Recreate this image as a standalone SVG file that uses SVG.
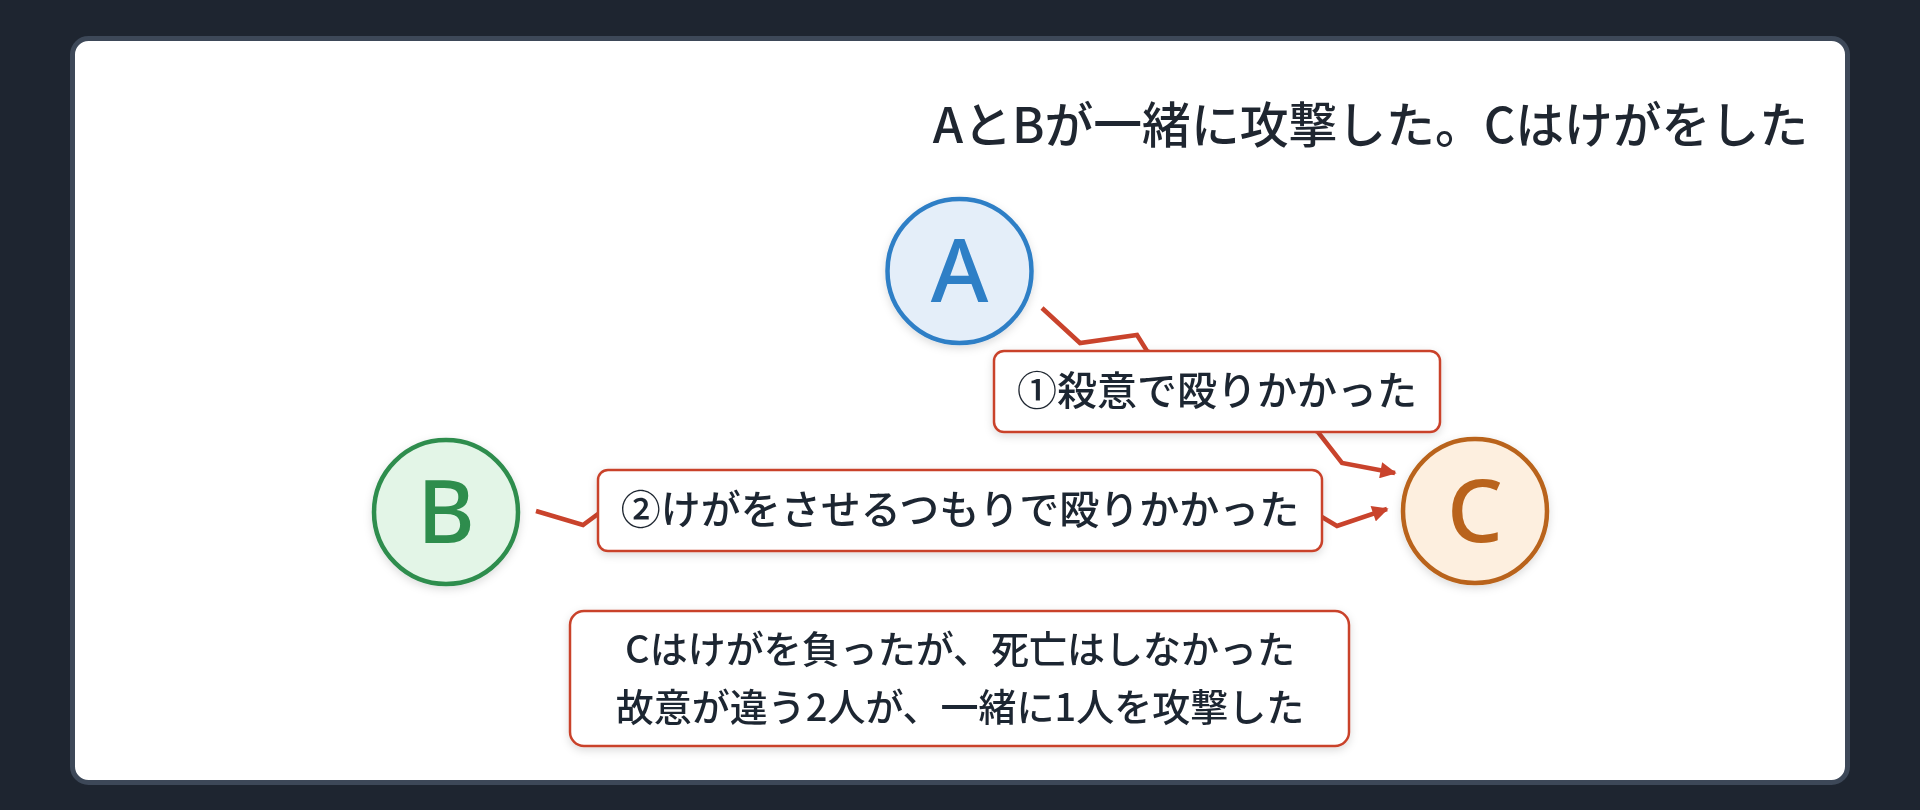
<svg xmlns="http://www.w3.org/2000/svg" width="1920" height="810" viewBox="0 0 1920 810">
<defs>
<style>
.txt{font-family:"Noto Sans CJK JP","Noto Sans",sans-serif;fill:#1f2630}
.title{font-size:48.8px;font-weight:500}
.lbl{font-size:40px;font-weight:500}
.note{font-size:38px;font-weight:500}
.letter{font-family:"Noto Sans","Noto Sans CJK JP",sans-serif;font-size:88px;font-weight:500;text-anchor:middle}
.box{fill:#ffffff;stroke:#c9432c;stroke-width:2.5}
.conn{fill:none;stroke:#c9432c;stroke-width:4.5;stroke-linejoin:miter;marker-end:url(#arrow)}
</style>
<marker id="arrow" viewBox="0 0 10 10" refX="9" refY="5" markerWidth="4" markerHeight="3.6" orient="auto" markerUnits="strokeWidth">
<path d="M0,0 L10,5 L0,10 z" fill="#c9432c"/>
</marker>
<filter id="sh" x="-20%" y="-20%" width="140%" height="150%">
<feDropShadow dx="0" dy="3" stdDeviation="4" flood-color="#000" flood-opacity="0.14"/>
</filter>
</defs>
<rect x="0" y="0" width="1920" height="810" fill="#1e2530"/>
<rect x="72.5" y="38.5" width="1775" height="744" rx="16" fill="#ffffff" stroke="#3d4858" stroke-width="5"/>
<text class="txt title" x="1808" y="143" text-anchor="end">AとBが一緒に攻撃した。Cはけがをした</text>
<g id="connectors">
<polyline class="conn" points="1042,308 1080,343 1137,335 1147,351 1318,432 1342,463 1395,473"/>
<polyline class="conn" points="536,511 583,525 598,514 1322,517 1337,526 1387,509"/>
</g>
<g id="node-A" filter="url(#sh)">
<circle cx="959.5" cy="271" r="72" fill="#e4eef9" stroke="#2f7fc6" stroke-width="4.5"/>
<text class="letter" x="959.5" y="302" fill="#2f7fc6">A</text>
</g>
<g id="node-B" filter="url(#sh)">
<circle cx="446" cy="512" r="72" fill="#e3f5e7" stroke="#2e8d4e" stroke-width="4.5"/>
<text class="letter" x="446" y="543" fill="#2e8d4e">B</text>
</g>
<g id="node-C" filter="url(#sh)">
<circle cx="1475" cy="511" r="72" fill="#fdefdf" stroke="#b9641a" stroke-width="4.5"/>
<text class="letter" x="1475" y="542" fill="#b9641a">C</text>
</g>
<g id="label-1" filter="url(#sh)">
<rect class="box" x="994" y="351" width="446" height="81" rx="10"/>
<text class="txt lbl" x="1217" y="405" text-anchor="middle">①殺意で殴りかかった</text>
</g>
<g id="label-2" filter="url(#sh)">
<rect class="box" x="598" y="470" width="724" height="81" rx="10"/>
<text class="txt lbl" x="960" y="524" text-anchor="middle">②けがをさせるつもりで殴りかかった</text>
</g>
<g id="note" filter="url(#sh)">
<rect class="box" x="570" y="611" width="779" height="135" rx="14"/>
<text class="txt note" x="960" y="663" text-anchor="middle">Cはけがを負ったが、死亡はしなかった</text>
<text class="txt note" x="960" y="721" text-anchor="middle">故意が違う2人が、一緒に1人を攻撃した</text>
</g>
</svg>
